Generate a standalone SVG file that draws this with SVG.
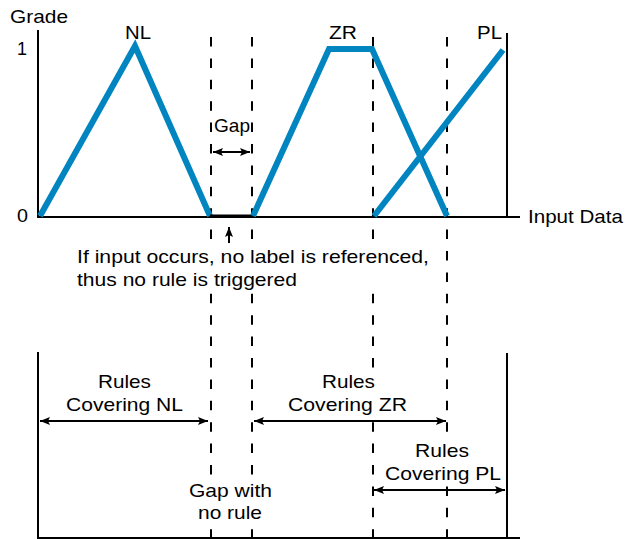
<svg xmlns="http://www.w3.org/2000/svg" width="626" height="539" viewBox="0 0 626 539">
<defs>
<marker id="ah" viewBox="0 0 10 8" refX="10" refY="4" markerWidth="10" markerHeight="8" markerUnits="userSpaceOnUse" orient="auto-start-reverse">
<path d="M0,0 L10,4 L0,8 L2,4 Z" fill="#000"/>
</marker>
</defs>
<style>
text{font-family:"Liberation Sans",Arial,sans-serif;font-size:18.5px;fill:#000}
.ax{stroke:#000;stroke-width:2;fill:none}
.ds{stroke:#000;stroke-width:2;stroke-dasharray:9.5,11.9;fill:none}
.mf{stroke:#0085C0;stroke-width:6;fill:none;stroke-linejoin:miter}
.ar{stroke:#000;stroke-width:2;fill:none;marker-start:url(#ah);marker-end:url(#ah)}
.bg{fill:#fff}
</style>
<rect width="626" height="539" fill="#fff"/>
<g id="axes">
<path class="ax" d="M38,30 V217 H520"/>
<path class="ax" d="M507,33 V217"/>
<path class="ax" d="M38,352 V538 H520"/>
<path class="ax" d="M507,353 V538"/>
<text x="10" y="23" textLength="58" lengthAdjust="spacingAndGlyphs">Grade</text>
<text x="17" y="55" textLength="10" lengthAdjust="spacingAndGlyphs">1</text>
<text x="17" y="222" textLength="11" lengthAdjust="spacingAndGlyphs">0</text>
<text x="528" y="223" textLength="95" lengthAdjust="spacingAndGlyphs">Input Data</text>
</g>
<g id="dashes">
<path class="ds" d="M211,37 V539 M252,37 V539 M373,37 V539 M447,37 V539"/>
</g>
<g id="NL">
<path class="mf" d="M40,216 L135,46 L210,216"/>
<text x="125" y="39" textLength="26" lengthAdjust="spacingAndGlyphs">NL</text>
</g>
<g id="gapseg">
<path d="M210,216 H252" stroke="#000" stroke-width="3"/>
</g>
<g id="ZR">
<path class="mf" d="M253,216 L329,49 L372,49 L447,216"/>
<text x="329" y="39" textLength="28" lengthAdjust="spacingAndGlyphs">ZR</text>
</g>
<g id="PL">
<path class="mf" d="M374,216 L503,50"/>
<text x="477" y="39" textLength="25" lengthAdjust="spacingAndGlyphs">PL</text>
</g>
<g id="gaplabel">
<rect class="bg" x="213" y="116" width="38" height="20"/>
<text x="214" y="132" textLength="36" lengthAdjust="spacingAndGlyphs">Gap</text>
</g>
<g id="connectors">
<path class="ar" d="M213,152 H250"/>
<path d="M229,243 V227" stroke="#000" stroke-width="2" marker-end="url(#ah)"/>
<path class="ar" d="M40,421 H208"/>
<path class="ar" d="M254,421 H446"/>
<path class="ar" d="M374,490 H505"/>
</g>
<g id="note">
<rect class="bg" x="75" y="247" width="356" height="42"/>
<text x="77" y="263" textLength="352" lengthAdjust="spacingAndGlyphs">If input occurs, no label is referenced,</text>
<text x="77" y="286" textLength="220" lengthAdjust="spacingAndGlyphs">thus no rule is triggered</text>
</g>
<g id="rulesNL">
<text x="98" y="388" textLength="53" lengthAdjust="spacingAndGlyphs">Rules</text>
<text x="66" y="411" textLength="117" lengthAdjust="spacingAndGlyphs">Covering NL</text>
</g>
<g id="rulesZR">
<rect class="bg" x="287" y="372" width="122" height="43"/>
<text x="322" y="388" textLength="53" lengthAdjust="spacingAndGlyphs">Rules</text>
<text x="288" y="411" textLength="119" lengthAdjust="spacingAndGlyphs">Covering ZR</text>
</g>
<g id="rulesPL">
<rect class="bg" x="384" y="441" width="119" height="43"/>
<text x="415" y="457" textLength="54" lengthAdjust="spacingAndGlyphs">Rules</text>
<text x="385" y="480" textLength="116" lengthAdjust="spacingAndGlyphs">Covering PL</text>
</g>
<g id="gaprule">
<rect class="bg" x="188" y="481" width="86" height="42"/>
<text x="189" y="497" textLength="83" lengthAdjust="spacingAndGlyphs">Gap with</text>
<text x="198" y="519" textLength="64" lengthAdjust="spacingAndGlyphs">no rule</text>
</g>
</svg>
